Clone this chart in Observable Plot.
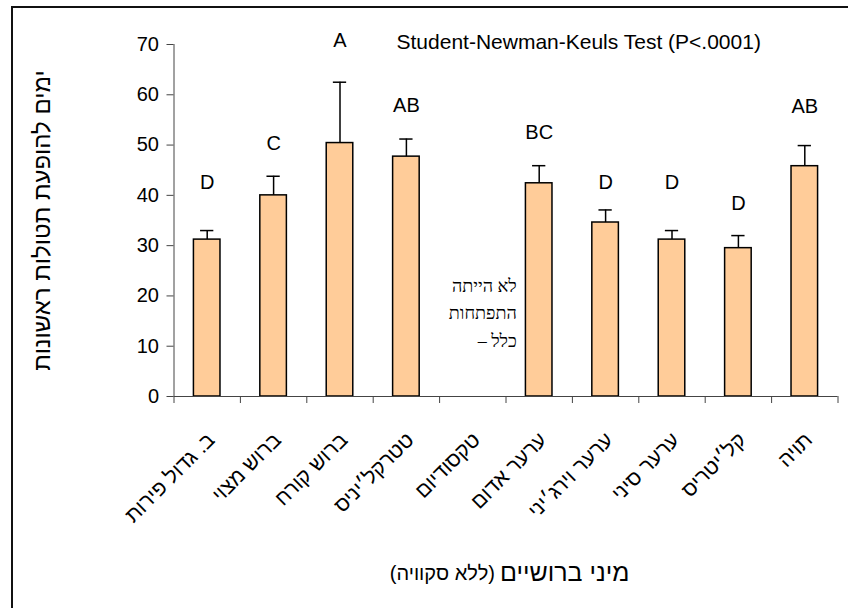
<!DOCTYPE html>
<html><head><meta charset="utf-8">
<script src="https://cdn.jsdelivr.net/npm/d3@7"></script>
<script src="https://cdn.jsdelivr.net/npm/@observablehq/plot@0.6"></script>
<style>
body{margin:0;background:#fff;}
#wrap{position:relative;width:848px;height:608px;overflow:hidden;}
#wrap svg{position:absolute;left:0;top:0;}
#frame{position:absolute;left:11px;top:6px;right:-10px;bottom:-10px;border-left:2px solid #111;border-top:2px solid #111;pointer-events:none;}
</style></head><body><div id="wrap"><div id="frame"></div></div>
<script>
const categories = ["ב. גדול פירות","ברוש מצוי","ברוש קורח","טטרקל׳יניס","טקסודיום","ערער אדום","ערער וירג׳יני","ערער סיני","קל׳יטריס","תויה"];
const means = [31.2, 40.0, 50.4, 47.7, 0, 42.4, 34.6, 31.2, 29.5, 45.8];
const errorTops = [33.0, 43.8, 62.5, 51.2, null, 45.9, 37.1, 33.0, 32.0, 49.9];
const groupLetters = ["D","C","A","AB","","BC","D","D","D","AB"];
const letterLevels = [42.5, 50.3, 70.7, 57.8, null, 52.4, 42.6, 42.6, 38.4, 57.6];
const yTicks = [0,10,20,30,40,50,60,70];
const noteText = "לא הייתה\nהתפתחות\n– כלל";
const noteCategory = "טקסודיום";
const chartTitle = "Student-Newman-Keuls Test (P<.0001)";
const yLabel = "ימים להופעת תטולות ראשונות";
const xLabelMain = "מיני ברושיים";
const xLabelSub = "(ללא סקוויה)";

const data = categories.map((c,i)=>({cat:c, i, pos:i+0.5, mean:means[i], err:errorTops[i], letter:groupLetters[i], lvl:letterLevels[i]}));
const withErr = data.filter(d=>d.err!=null);
const noteIdx = categories.indexOf(noteCategory);
const sans = "'Liberation Sans', Arial, 'DejaVu Sans', sans-serif";

const plot = Plot.plot({
  width:848, height:608,
  marginLeft:173.5, marginRight:10.5, marginTop:44, marginBottom:212,
  style:{fontFamily:sans, background:"transparent", color:"#000"},
  x:{domain:[0,categories.length], axis:null},
  y:{domain:[0,70], axis:null},
  marks:[
    Plot.axisY({ticks:yTicks, tickSize:7, tickPadding:8, fontSize:20, label:null, tickFormat:d=>String(d), stroke:"#444"}),
    Plot.axisX({ticks:d3.range(0,categories.length+1), tickSize:7, tickFormat:()=>"", label:null, stroke:"#444"}),
    Plot.ruleX([0], {stroke:"#444", strokeWidth:1}),
    Plot.rectY(data, {x1:d=>d.i+0.3, x2:d=>d.i+0.7, y:"mean", fill:"#FFCC99", stroke:"#000", strokeWidth:1.5}),
    Plot.ruleY([0], {stroke:"#444", strokeWidth:1}),
    Plot.ruleX(withErr, {x:"pos", y1:"mean", y2:"err", stroke:"#000", strokeWidth:1.5}),
    Plot.ruleY(withErr, {y:"err", x1:d=>d.pos-0.1, x2:d=>d.pos+0.1, stroke:"#000", strokeWidth:1.5}),
    Plot.text(data.filter(d=>d.letter), {x:"pos", y:"lvl", text:"letter", fontSize:20, fill:"#000", lineAnchor:"middle"}),
    Plot.text(data, {x:"pos", frameAnchor:"bottom", text:"cat", rotate:-45, textAnchor:"end", lineAnchor:"middle", dx:4, dy:40, fontSize:21, fill:"#000"}),
    Plot.text([noteText], {x:()=>noteIdx+0.5, frameAnchor:"bottom", text:d=>d, textAnchor:"end", lineAnchor:"middle", dx:44, dy:-86, fontSize:18, lineHeight:1.55, fill:"#000", fontFamily:"'Liberation Serif', 'DejaVu Serif', serif"}),
    Plot.text([chartTitle], {frameAnchor:"top-left", text:d=>d, textAnchor:"start", lineAnchor:"middle", dx:222.5, dy:-2, fontSize:21, fill:"#000"}),
    Plot.text([yLabel], {frameAnchor:"left", text:d=>d, rotate:-90, textAnchor:"middle", lineAnchor:"middle", dx:-132, fontSize:24, fill:"#000"}),
    Plot.text([xLabelMain], {frameAnchor:"bottom", text:d=>d, textAnchor:"start", lineAnchor:"middle", dx:-6, dy:176, fontSize:25, fill:"#000"}),
    Plot.text([xLabelSub], {frameAnchor:"bottom", text:d=>d, textAnchor:"end", lineAnchor:"middle", dx:-11, dy:177, fontSize:20, fill:"#000"})
  ]
});
document.getElementById("wrap").insertBefore(plot, document.getElementById("frame"));
</script></body></html>
